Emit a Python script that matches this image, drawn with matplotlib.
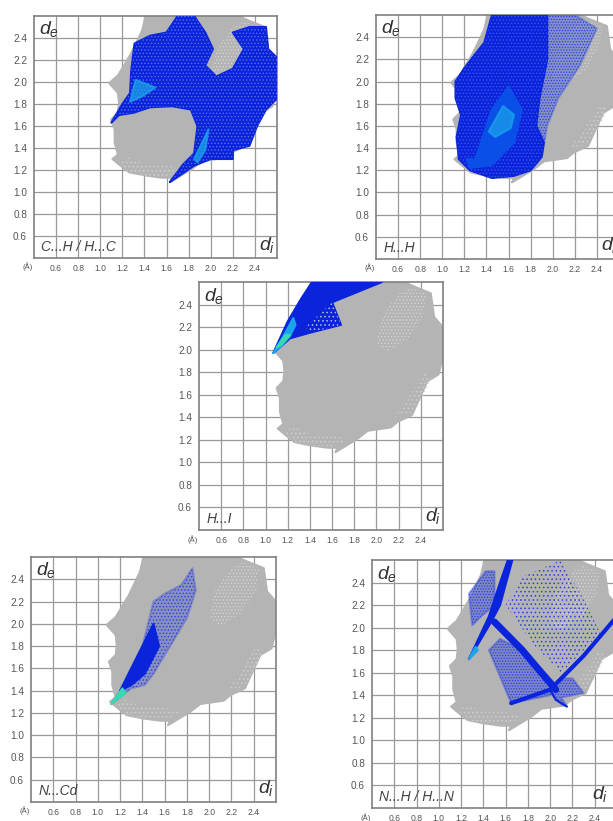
import matplotlib
matplotlib.use("Agg")
import matplotlib.pyplot as plt

plt.rcParams["font.family"] = ["Liberation Sans", "DejaVu Sans"]
plt.rcParams["mathtext.fontset"] = "custom"
plt.rcParams["mathtext.it"] = "Liberation Sans:italic"
plt.rcParams["mathtext.rm"] = "Liberation Sans"
plt.rcParams["hatch.linewidth"] = 0.6

W, H = 613, 821
GREY = "#b4b4b4"
BLUE = "#0a24dc"
MID = "#0a50e8"
CYAN = "#1aa4ea"
TEAL = "#38d8b0"

ticks = [0.6, 0.8, 1.0, 1.2, 1.4, 1.6, 1.8, 2.0, 2.2, 2.4]
tick_labels = ["0.6", "0.8", "1.0", "1.2", "1.4", "1.6", "1.8", "2.0", "2.2", "2.4"]

# whole-surface outline, di / de
grey_di = [1.08, 1.16, 1.28, 1.38, 1.41, 2.25, 2.34, 2.49, 2.52, 2.59, 2.59, 2.56, 2.46, 2.38, 2.32, 2.19, 2.13,
           1.92, 1.83, 1.63, 1.65, 1.56, 1.41, 1.26, 1.17, 1.11, 1.16, 1.13, 1.13, 1.10, 1.16, 1.17, 1.16]
grey_de = [1.99, 2.06, 2.26, 2.47, 2.6, 2.6, 2.56, 2.5, 2.29, 2.21, 1.9, 1.78, 1.72, 1.55, 1.42, 1.36, 1.31,
           1.28, 1.21, 1.09, 1.13, 1.13, 1.15, 1.18, 1.25, 1.3, 1.34, 1.45, 1.57, 1.66, 1.72, 1.81, 1.9]
# pale gap in the grey cloud, upper right
gap_di = [2.0, 2.1, 2.3, 2.42, 2.45, 2.3, 2.2, 2.05]
gap_de = [2.05, 1.98, 2.1, 2.3, 2.5, 2.55, 2.5, 2.3]
# paler rim along the bottom and lower right
rim_di = [1.17, 1.26, 1.41, 1.6, 1.75, 1.6, 1.4, 1.25]
rim_de = [1.27, 1.18, 1.15, 1.14, 1.2, 1.25, 1.25, 1.32]
rim2_di = [2.15, 2.3, 2.4, 2.5, 2.42, 2.28]
rim2_de = [1.4, 1.43, 1.55, 1.75, 1.8, 1.55]

# C...H
ch_di = [1.1, 1.2, 1.27, 1.28, 1.31, 1.45, 1.6, 1.7, 1.85, 1.95, 2.02, 1.95, 2.05, 2.2, 2.3, 2.2, 2.35, 2.5, 2.52,
         2.6, 2.6, 2.5, 2.42, 2.35, 2.2, 2.2, 2.0, 1.85, 1.63, 1.75, 1.85, 1.88, 1.82, 1.65, 1.45, 1.3, 1.17]
ch_de = [1.63, 1.8, 1.9, 2.1, 2.35, 2.42, 2.45, 2.6, 2.6, 2.45, 2.3, 2.15, 2.05, 2.12, 2.3, 2.45, 2.5, 2.5, 2.3,
         2.22, 1.85, 1.75, 1.6, 1.42, 1.38, 1.3, 1.3, 1.24, 1.09, 1.25, 1.35, 1.6, 1.75, 1.78, 1.77, 1.72, 1.7]
ch_core1_di = [1.27, 1.32, 1.5, 1.38]
ch_core1_de = [1.82, 2.02, 1.95, 1.87]
ch_core2_di = [1.85, 1.98, 1.95, 1.88]
ch_core2_de = [1.3, 1.57, 1.38, 1.27]

# H...H
hh_di = [1.12, 1.2, 1.3, 1.38, 1.45, 1.95, 1.95, 1.88, 1.85, 1.92, 1.9, 1.8, 1.65, 1.45, 1.25, 1.15, 1.13, 1.17, 1.12]
hh_de = [2.0, 2.12, 2.25, 2.35, 2.6, 2.6, 2.2, 1.85, 1.6, 1.45, 1.32, 1.2, 1.15, 1.13, 1.2, 1.3, 1.5, 1.7, 1.85]
hh_light_di = [1.9, 2.2, 2.4, 2.25, 2.05, 1.95, 1.9, 1.8]
hh_light_de = [2.6, 2.6, 2.48, 2.15, 1.85, 1.6, 1.32, 1.6]
hh_mid_di = [1.3, 1.45, 1.6, 1.72, 1.65, 1.45, 1.25, 1.22]
hh_mid_de = [1.3, 1.75, 1.95, 1.75, 1.45, 1.25, 1.22, 1.3]
hh_core_di = [1.42, 1.55, 1.65, 1.62, 1.48]
hh_core_de = [1.55, 1.78, 1.7, 1.58, 1.5]

# H...I
hi_di = [1.07, 1.2, 1.32, 1.42, 2.05, 1.8, 1.6, 1.68, 1.4, 1.22]
hi_de = [1.97, 2.25, 2.45, 2.6, 2.6, 2.5, 2.42, 2.22, 2.15, 2.1]
hi_speck_di = [1.36, 1.6, 1.68, 1.4]
hi_speck_de = [2.2, 2.42, 2.22, 2.15]
hi_core_di = [1.07, 1.15, 1.25, 1.27, 1.22, 1.14]
hi_core_de = [1.97, 2.1, 2.28, 2.22, 2.12, 2.03]
hi_tip_di = [1.1, 1.18, 1.22, 1.14]
hi_tip_de = [2.02, 2.13, 2.13, 2.04]

# N...Cd
nc_di = [1.12, 1.3, 1.4, 1.5, 1.6, 1.75, 1.85, 1.88, 1.8, 1.65, 1.5, 1.42, 1.3]
nc_de = [1.28, 1.55, 1.8, 2.2, 2.27, 2.35, 2.5, 2.3, 2.05, 1.8, 1.55, 1.45, 1.42]
nc_core_di = [1.2, 1.35, 1.5, 1.55, 1.42, 1.3]
nc_core_de = [1.4, 1.7, 2.0, 1.8, 1.55, 1.45]
nc_tip_di = [1.12, 1.22, 1.25]
nc_tip_de = [1.28, 1.42, 1.38]

# N...H
nh_spike_di = [1.27, 1.45, 1.55, 1.62, 1.66, 1.55, 1.47, 1.35]
nh_spike_de = [1.72, 2.1, 2.4, 2.6, 2.6, 2.2, 2.05, 1.85]
nh_tip_di = [1.27, 1.33, 1.35]
nh_tip_de = [1.72, 1.83, 1.8]
nh_patch1_di = [1.27, 1.42, 1.5, 1.5, 1.38, 1.3]
nh_patch1_de = [2.3, 2.5, 2.5, 2.2, 2.1, 2.02]
nh_patch2_di = [1.45, 1.65, 2.0, 2.05, 1.75, 1.55]
nh_patch2_de = [1.8, 1.33, 1.4, 1.5, 1.8, 1.9]
nh_patch3_di = [2.0, 2.1, 2.15, 2.1, 2.3, 2.2, 2.1]
nh_patch3_de = [1.42, 1.32, 1.3, 1.38, 1.42, 1.55, 1.55]
nh_sparse_di = [1.6, 1.75, 2.1, 2.3, 2.45, 2.1, 1.85]
nh_sparse_de = [2.2, 2.45, 2.6, 2.25, 1.95, 1.6, 1.85]
nh_band1_di = [1.5, 1.75, 2.05]
nh_band1_de = [2.05, 1.8, 1.45]
nh_band2_di = [1.65, 2.0, 2.3, 2.6]
nh_band2_de = [1.33, 1.45, 1.75, 2.1]
nh_band3_di = [2.0, 2.05, 2.15]
nh_band3_de = [1.45, 1.36, 1.3]


def blob(ax, di, de, color, z, alpha=1.0):
    # rounded edge so the corners look less cut out
    ax.fill(di, de, facecolor=color, edgecolor=color, linewidth=1.5, alpha=alpha, zorder=z, joinstyle="round")


def stipple(ax, di, de, color, z, hatch="....."):
    ax.fill(di, de, facecolor="none", edgecolor=color, linewidth=0, hatch=hatch, zorder=z)


def make_panel(left, top, right, bottom, label, di_x=0.925):
    ax = plt.gcf().add_axes([left / W, 1 - bottom / H, (right - left) / W, (bottom - top) / H])
    ax.set_xlim(0.4, 2.6)
    ax.set_ylim(0.4, 2.6)
    ax.set_xticks(ticks, tick_labels)
    ax.set_yticks(ticks, tick_labels)
    ax.tick_params(length=0, labelcolor="#555555")
    ax.tick_params(axis="x", labelsize=6.2, pad=4)
    ax.tick_params(axis="y", labelsize=7.2, pad=5)
    ax.grid(True, color="#999999", linewidth=0.9)
    ax.set_axisbelow(True)
    for side in ax.spines.values():
        side.set_color("#808080")
        side.set_linewidth(1.2)
    blob(ax, grey_di, grey_de, GREY, 2)
    stipple(ax, gap_di, gap_de, "#d4d4d4", 2.1)
    stipple(ax, rim_di, rim_de, "#d0d0d0", 2.1, "....")
    stipple(ax, rim2_di, rim2_de, "#d0d0d0", 2.1, "....")
    ax.text(0.02, 0.925, "$d_e$", transform=ax.transAxes, fontsize=14, color="#333333")
    ax.text(di_x, 0.035, "$d_i$", transform=ax.transAxes, fontsize=14, color="#333333")
    ax.text(0.03, 0.03, label, transform=ax.transAxes, fontsize=10, style="italic", color="#444444")
    ax.text(-0.048, -0.037, "(Å)", transform=ax.transAxes, fontsize=5.5, color="#555555", va="center")
    return ax


fig = plt.figure(figsize=(W / 100, H / 100), dpi=100)

ax = make_panel(34, 16, 277, 258, "C...H / H...C")
blob(ax, ch_di, ch_de, BLUE, 3)
stipple(ax, ch_di, ch_de, "#5a6ce8", 3.5)
blob(ax, ch_core1_di, ch_core1_de, CYAN, 4, 0.75)
blob(ax, ch_core2_di, ch_core2_de, CYAN, 4, 0.75)

ax = make_panel(376, 15, 619, 259, "H...H")
blob(ax, hh_light_di, hh_light_de, "#4a64dc", 2.9, 0.45)
stipple(ax, hh_light_di, hh_light_de, "#2a40e0", 3, "......")
blob(ax, hh_di, hh_de, BLUE, 4)
stipple(ax, hh_di, hh_de, "#3a55e8", 4.5)
blob(ax, hh_mid_di, hh_mid_de, MID, 5)
blob(ax, hh_core_di, hh_core_de, CYAN, 6, 0.7)

ax = make_panel(199, 282, 443, 530, "H...I")
blob(ax, hi_di, hi_de, BLUE, 3)
stipple(ax, hi_speck_di, hi_speck_de, "#b4b8d8", 3.5, "....")
blob(ax, hi_core_di, hi_core_de, CYAN, 4)
blob(ax, hi_tip_di, hi_tip_de, TEAL, 5)

ax = make_panel(31, 557, 276, 802, "N...Cd")
blob(ax, nc_di, nc_de, "#3a4fd8", 2.9, 0.35)
stipple(ax, nc_di, nc_de, "#2a40e0", 3, ".....")
blob(ax, nc_core_di, nc_core_de, BLUE, 4)
blob(ax, nc_tip_di, nc_tip_de, TEAL, 5)

ax = make_panel(372, 560, 617, 808, "N...H / H...N", di_x=0.9)
stipple(ax, nh_sparse_di, nh_sparse_de, "#2a40e0", 3, "....")
blob(ax, nh_patch1_di, nh_patch1_de, "#3a4fd8", 3.5, 0.45)
blob(ax, nh_patch2_di, nh_patch2_de, "#3a4fd8", 3.5, 0.45)
blob(ax, nh_patch3_di, nh_patch3_de, "#3a4fd8", 3.5, 0.45)
stipple(ax, nh_patch1_di, nh_patch1_de, "#2a40e0", 4, "......")
stipple(ax, nh_patch2_di, nh_patch2_de, "#2a40e0", 4, "......")
stipple(ax, nh_patch3_di, nh_patch3_de, "#2a40e0", 4, "......")
ax.plot(nh_band1_di, nh_band1_de, color=BLUE, linewidth=5, zorder=5, solid_capstyle="round")
ax.plot(nh_band2_di, nh_band2_de, color=BLUE, linewidth=3, zorder=5, solid_capstyle="round")
ax.plot(nh_band3_di, nh_band3_de, color=BLUE, linewidth=1.5, zorder=5, solid_capstyle="round")
blob(ax, nh_spike_di, nh_spike_de, BLUE, 6)
blob(ax, nh_tip_di, nh_tip_de, CYAN, 7)

fig.savefig("out.png", dpi=100)
